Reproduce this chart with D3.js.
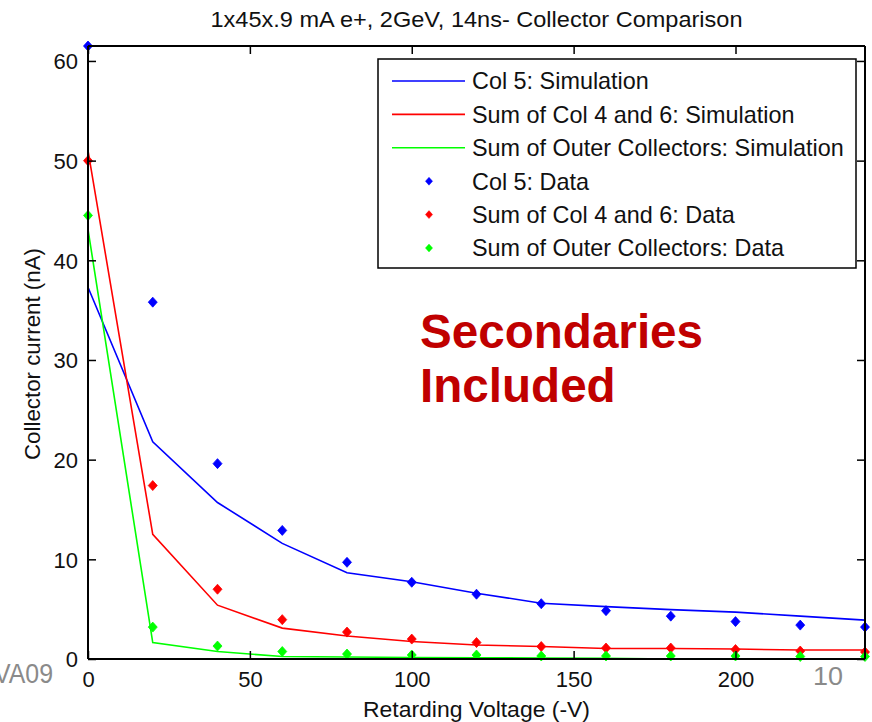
<!DOCTYPE html>
<html>
<head>
<meta charset="utf-8">
<script src="https://cdn.jsdelivr.net/npm/d3@7/dist/d3.min.js"></script>
<style>
  html, body { margin: 0; padding: 0; background: #fff; }
  svg { display: block; }
  text { font-family: "Liberation Sans", Arial, sans-serif; }
</style>
</head>
<body>
<svg id="chart" width="872" height="722"></svg>
<script>
// ---- data ----
const voltages = [0, 20, 40, 60, 80, 100, 120, 140, 160, 180, 200, 220, 240];

const col5Sim   = [37.3, 21.8, 15.7, 11.6, 8.65, 7.75, 6.6, 5.6, 5.25, 4.95, 4.7, 4.3, 3.9];
const col46Sim  = [51.0, 12.5, 5.4, 3.1, 2.3, 1.75, 1.4, 1.25, 1.05, 1.05, 1.0, 0.9, 0.9];
const outerSim  = [43.1, 1.65, 0.75, 0.25, 0.2, 0.15, 0.12, 0.1, 0.08, 0, 0, 0, 0];

const col5Data  = [61.5, 35.8, 19.6, 12.9, 9.7, 7.7, 6.5, 5.55, 4.85, 4.3, 3.75, 3.4, 3.2];
const col46Data = [50.0, 17.4, 7.0, 3.95, 2.7, 2.0, 1.65, 1.25, 1.1, 1.1, 0.95, 0.8, 0.7];
const outerData = [44.5, 3.2, 1.3, 0.75, 0.5, 0.4, 0.4, 0.3, 0.3, 0.3, 0.3, 0.25, 0.25];

const xTicks = [0, 50, 100, 150, 200];
const yTicks = [0, 10, 20, 30, 40, 50, 60];

const legendLabels = [
  "Col 5: Simulation",
  "Sum of Col 4 and 6: Simulation",
  "Sum of Outer Collectors: Simulation",
  "Col 5: Data",
  "Sum of Col 4 and 6: Data",
  "Sum of Outer Collectors: Data"
];

const titleText = "1x45x.9 mA e+, 2GeV, 14ns- Collector Comparison";
const xLabel = "Retarding Voltage (-V)";
const yLabel = "Collector current (nA)";
const noteLines = ["Secondaries", "Included"];

// ---- layout ----
const L = 88, R = 865, T = 46, B = 659;
const svg = d3.select("#chart");

const x = d3.scaleLinear().domain([0, 240]).range([L, R]);
const y = d3.scaleLinear().domain([0, 61.5]).range([B, T]);

const colors = ["#0000ff", "#ff0000", "#00ff00"];
const sims = [col5Sim, col46Sim, outerSim];
const datas = [col5Data, col46Data, outerData];

// title
svg.append("text").attr("x", (L + R) / 2).attr("y", 27)
  .attr("text-anchor", "middle").attr("font-size", 22).attr("fill", "#111")
  .attr("textLength", 532).attr("lengthAdjust", "spacingAndGlyphs")
  .text(titleText);

// lines
const line = d3.line().x((d, i) => x(voltages[i])).y(d => y(d));
sims.forEach((s, k) => {
  svg.append("path").datum(s).attr("d", line)
    .attr("fill", "none").attr("stroke", colors[k]).attr("stroke-width", 1.6);
});

// data markers (diamonds)
const diamond = (cx, cy) => `M${cx},${cy - 5}L${cx + 4.5},${cy}L${cx},${cy + 5}L${cx - 4.5},${cy}Z`;
datas.forEach((s, k) => {
  svg.append("g").selectAll("path").data(s).join("path")
    .attr("d", (d, i) => diamond(x(voltages[i]), y(d)))
    .attr("fill", colors[k]).attr("stroke", colors[k]).attr("stroke-width", 0.8);
});

// axes (box with inward ticks)
const ax = svg.append("g");
const bottomAxis = d3.axisBottom(x).tickValues(xTicks).tickSize(-8).tickPadding(12).tickFormat(d3.format("d"));
const leftAxis = d3.axisLeft(y).tickValues(yTicks).tickSize(-8).tickPadding(10).tickFormat(d3.format("d"));
const topAxis = d3.axisTop(x).tickValues(xTicks).tickSize(-8).tickFormat("");
const rightAxis = d3.axisRight(y).tickValues(yTicks).tickSize(-8).tickFormat("");

const gB = ax.append("g").attr("transform", `translate(0,${B})`).call(bottomAxis);
const gL = ax.append("g").attr("transform", `translate(${L},0)`).call(leftAxis);
const gT = ax.append("g").attr("transform", `translate(0,${T})`).call(topAxis);
const gR = ax.append("g").attr("transform", `translate(${R},0)`).call(rightAxis);
[gB, gL, gT, gR].forEach(g => {
  g.select(".domain").attr("stroke", "#000").attr("stroke-width", 2);
  g.selectAll(".tick line").attr("stroke", "#000").attr("stroke-width", 1.5);
  g.selectAll("text").attr("font-size", 22).attr("fill", "#111")
    .attr("font-family", "Liberation Sans, Arial, sans-serif");
});
gL.select(".domain").attr("d", `M0,${B}V${T}`);
gR.select(".domain").attr("d", `M0,${B}V${T}`);
gB.select(".domain").attr("d", `M${L},0H${R}`);
gT.select(".domain").attr("d", `M${L},0H${R}`);
gL.selectAll("text").attr("dy", "0.35em");

// axis labels
svg.append("text").attr("x", (L + R) / 2).attr("y", 717)
  .attr("text-anchor", "middle").attr("font-size", 22).attr("fill", "#111")
  .attr("textLength", 227).attr("lengthAdjust", "spacingAndGlyphs")
  .text(xLabel);
svg.append("text").attr("transform", `translate(40,354) rotate(-90)`)
  .attr("text-anchor", "middle").attr("font-size", 22).attr("fill", "#111")
  .attr("textLength", 212).attr("lengthAdjust", "spacingAndGlyphs")
  .text(yLabel);

// legend
const lg = svg.append("g");
lg.append("rect").attr("x", 378).attr("y", 59).attr("width", 478).attr("height", 209)
  .attr("fill", "#fff").attr("stroke", "#000").attr("stroke-width", 1.5);
legendLabels.forEach((lab, i) => {
  const cy = 81 + i * 33.4;
  const c = colors[i % 3];
  if (i < 3) {
    lg.append("line").attr("x1", 392).attr("x2", 465).attr("y1", cy).attr("y2", cy)
      .attr("stroke", c).attr("stroke-width", 1.6);
  } else {
    lg.append("path").attr("d", diamond(429, cy)).attr("fill", c).attr("stroke", c).attr("stroke-width", 0.5)
      .attr("transform", `translate(${429 * 0.2},${cy * 0.2}) scale(0.8)`);
  }
  lg.append("text").attr("x", 472).attr("y", cy).attr("dy", "0.36em")
    .attr("font-size", 23.4).attr("fill", "#111").text(lab);
});

// annotation
noteLines.forEach((t, i) => {
  svg.append("text").attr("x", 420).attr("y", 348 + i * 54)
    .attr("font-size", 47.6).attr("font-weight", "bold").attr("fill", "#c00000")
    .text(t);
});

// slide footer fragments
svg.append("text").attr("x", -6).attr("y", 683).attr("font-size", 28).attr("fill", "#8a8a8a")
  .attr("textLength", 59).attr("lengthAdjust", "spacingAndGlyphs").text("VA09");
svg.append("text").attr("x", 813).attr("y", 685).attr("font-size", 26).attr("fill", "#8a8a8a")
  .attr("textLength", 30).attr("lengthAdjust", "spacingAndGlyphs").text("10");
</script>
</body>
</html>
